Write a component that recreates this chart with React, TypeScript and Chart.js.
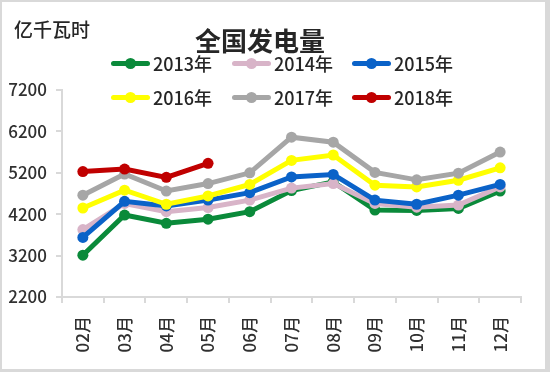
import React, { useEffect, useRef } from "react";
import { Chart, registerables } from "chart.js";

Chart.register(...registerables);

const months = ["02月", "03月", "04月", "05月", "06月", "07月", "08月", "09月", "10月", "11月", "12月"];
const seriesNames = ["2013年", "2014年", "2015年", "2016年", "2017年", "2018年"];
const seriesColors = ["#0a8a3a", "#d8b4c8", "#0a62c8", "#ffff00", "#a6a6a6", "#c00000"];
const v2013 = [3210, 4180, 3980, 4080, 4260, 4770, 4980, 4300, 4290, 4340, 4760];
const v2014 = [3830, 4460, 4260, 4360, 4540, 4830, 4940, 4460, 4370, 4420, 4860];
const v2015 = [3640, 4510, 4400, 4540, 4720, 5100, 5160, 4540, 4440, 4660, 4920];
const v2016 = [4350, 4780, 4440, 4640, 4920, 5500, 5630, 4900, 4860, 5020, 5320];
const v2017 = [4660, 5170, 4760, 4940, 5200, 6060, 5940, 5210, 5030, 5190, 5700];
const v2018 = [5230, 5290, 5090, 5430, null, null, null, null, null, null, null];
const seriesValues = [v2013, v2014, v2015, v2016, v2017, v2018];
const yTicks = [2200, 3200, 4200, 5200, 6200, 7200];

const FONT = "'Noto Sans CJK SC', 'Noto Sans', sans-serif";

export default function App() {
  const ref = useRef<HTMLCanvasElement | null>(null);

  useEffect(() => {
    const canvas = ref.current;
    if (!canvas) return;
    const datasets = seriesNames.map((name, i) => ({
      label: name,
      data: seriesValues[i],
      borderColor: seriesColors[i],
      backgroundColor: seriesColors[i],
      pointBackgroundColor: seriesColors[i],
      pointBorderColor: seriesColors[i],
      borderWidth: 5,
      pointRadius: 5.5,
      pointBorderWidth: 0,
      tension: 0,
      spanGaps: false,
      order: seriesNames.length - 1 - i,
    }));
    const chart = new Chart(canvas, {
      type: "line",
      data: { labels: months, datasets },
      options: {
        animation: false,
        responsive: false,
        maintainAspectRatio: false,
        layout: { padding: { left: 0, right: 29, top: 90, bottom: 0 } },
        plugins: { legend: { display: false }, title: { display: false }, tooltip: { enabled: false } },
        scales: {
          x: {
            offset: true,
            grid: {
              offset: true,
              drawOnChartArea: false,
              drawTicks: true,
              tickLength: 6,
              color: "#d9d9d9",
              lineWidth: 2,
            },
            border: { color: "#d9d9d9", width: 2 },
            ticks: {
              minRotation: 90,
              maxRotation: 90,
              autoSkip: false,
              padding: 13,
              color: "#303030",
              font: { family: FONT, size: 17, weight: 500 },
            },
            afterFit: (scale: any) => {
              scale.height = 75;
            },
          },
          y: {
            min: 2200,
            max: 7200,
            afterBuildTicks: (scale: any) => {
              scale.ticks = yTicks.map((v) => ({ value: v }));
            },
            grid: {
              drawOnChartArea: false,
              drawTicks: true,
              tickLength: 6,
              color: "#d9d9d9",
              lineWidth: 2,
            },
            border: { color: "#d9d9d9", width: 2 },
            ticks: {
              padding: 9,
              color: "#303030",
              font: { family: FONT, size: 17, weight: 500 },
              callback: (v: any) => String(v),
            },
            afterFit: (scale: any) => {
              scale.width = 62;
            },
          },
        },
      },
    });
    return () => chart.destroy();
  }, []);

  const legendCols = [111, 232, 352];
  const legendRows = [63, 97];

  return (
    <div
      style={{
        position: "fixed",
        left: 0,
        top: 0,
        width: 550,
        height: 372,
        background: "#ffffff",
        boxSizing: "border-box",
        borderLeft: "2px solid #d9d9d9",
        borderTop: "2px solid #d9d9d9",
        borderRight: "5px solid #d9d9d9",
        borderBottom: "3px solid #d9d9d9",
        overflow: "hidden",
        fontFamily: FONT,
      }}
    >
      <canvas
        ref={ref}
        width={550}
        height={372}
        style={{ position: "absolute", left: -2, top: -2, width: 550, height: 372 }}
      />
      <div
        style={{
          position: "absolute",
          left: 12,
          top: 14,
          fontSize: 19,
          lineHeight: "26px",
          fontWeight: 500,
          color: "#262626",
          whiteSpace: "nowrap",
        }}
      >
        亿千瓦时
      </div>
      <div
        style={{
          position: "absolute",
          left: 158,
          width: 200,
          top: 21,
          textAlign: "center",
          fontSize: 26,
          lineHeight: "34px",
          fontWeight: 700,
          color: "#262626",
          whiteSpace: "nowrap",
        }}
      >
        全国发电量
      </div>
      {seriesNames.map((name, i) => {
        const left = legendCols[i % 3] - 2;
        const cy = legendRows[Math.floor(i / 3)] - 2;
        return (
          <div key={name} style={{ position: "absolute", left, top: cy - 12, height: 24, whiteSpace: "nowrap" }}>
            <div
              style={{
                position: "absolute",
                left: 0,
                top: 9.5,
                width: 39,
                height: 5,
                background: seriesColors[i],
                borderRadius: 2.5,
              }}
            />
            <div
              style={{
                position: "absolute",
                left: 14,
                top: 6.5,
                width: 11,
                height: 11,
                borderRadius: 5.5,
                background: seriesColors[i],
              }}
            />
            <div
              style={{
                position: "absolute",
                left: 42,
                top: 0,
                fontSize: 18,
                lineHeight: "24px",
                fontWeight: 500,
                color: "#262626",
              }}
            >
              {name}
            </div>
          </div>
        );
      })}
    </div>
  );
}
